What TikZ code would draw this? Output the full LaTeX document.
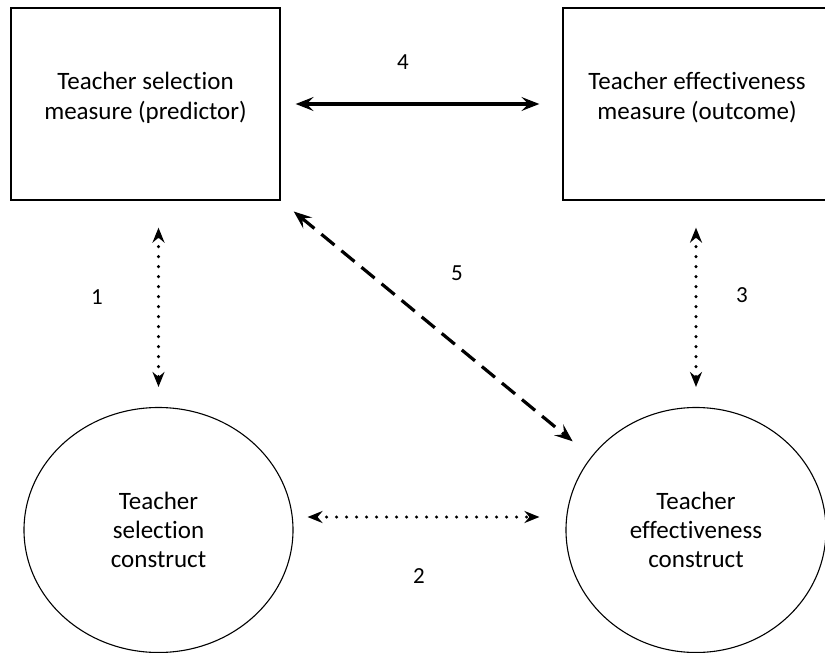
\documentclass[tikz,border=0pt]{standalone}
\usepackage{fontspec}
\setmainfont{Carlito}[Ligatures=NoCommon]
\usetikzlibrary{calc}
\usetikzlibrary{arrows.meta}
\usetikzlibrary{shapes.geometric}

\tikzset{
  measurebox/.style={draw,line width=1.3pt,minimum width=269pt,minimum height=192pt,align=center,text depth=17pt,font=\fontsize{25}{30}\selectfont},
  constructnode/.style={draw,ellipse,line width=1.1pt,minimum height=245pt,inner sep=0pt,align=center,font=\fontsize{25}{29}\selectfont},
  numlabel/.style={font=\fontsize{23}{27}\selectfont},
  dotarrow/.style={{Stealth[length=15pt,width=12pt,inset=5pt]}-{Stealth[length=15pt,width=12pt,inset=5pt]},line width=3.4pt,line cap=round,dash pattern=on 0pt off 10pt},
  dasharrow/.style={{Stealth[length=18pt,width=14pt,inset=7pt]}-{Stealth[length=18pt,width=14pt,inset=7pt]},line width=3.2pt,dash pattern=on 17pt off 9pt},
  solidarrow/.style={{Stealth[length=18pt,width=14pt,inset=7pt]}-{Stealth[length=18pt,width=14pt,inset=7pt]},line width=3.2pt}
}

\begin{document}
\begin{tikzpicture}[x=1pt,y=-1pt]
\useasboundingbox (0,0) rectangle (825,653);
\node[measurebox] (selmeasure) at (145.5,104) {Teacher selection\\measure (predictor)};
\node[measurebox,minimum width=268pt] (effmeasure) at (697,104) {Teacher effectiveness\\measure (outcome)};
\node[constructnode,minimum width=269pt] (selconstruct) at (158.5,530) {Teacher\\selection\\construct};
\node[constructnode,minimum width=260pt] (effconstruct) at (696,530) {Teacher\\effectiveness\\construct};
\coordinate (selfoot) at (selconstruct.north |- selmeasure.south);
\coordinate (efffoot) at (effconstruct.north |- effmeasure.south);
\draw[dotarrow,shorten <=27pt,shorten >=20pt] (selfoot) -- (selconstruct.north);
\draw[dotarrow,shorten <=27pt,shorten >=20pt] (efffoot) -- (effconstruct.north);
\draw[solidarrow,shorten <=15pt,shorten >=23pt] (selmeasure.east) -- (effmeasure.west);
\draw[dotarrow,shorten <=14pt,shorten >=26pt] ([yshift=13pt]selconstruct.east) -- ([yshift=13pt]effconstruct.west);
\draw[dasharrow,shorten <=17pt,shorten >=24pt] (selmeasure.south east) -- (effconstruct.145);
\node[numlabel] (n1) at (97,297) {1};
\node[numlabel] (n2) at (419,576) {2};
\node[numlabel] (n3) at (742,295) {3};
\node[numlabel] (n4) at (403,62) {4};
\node[numlabel] (n5) at (457,273) {5};
\end{tikzpicture}
\end{document}
